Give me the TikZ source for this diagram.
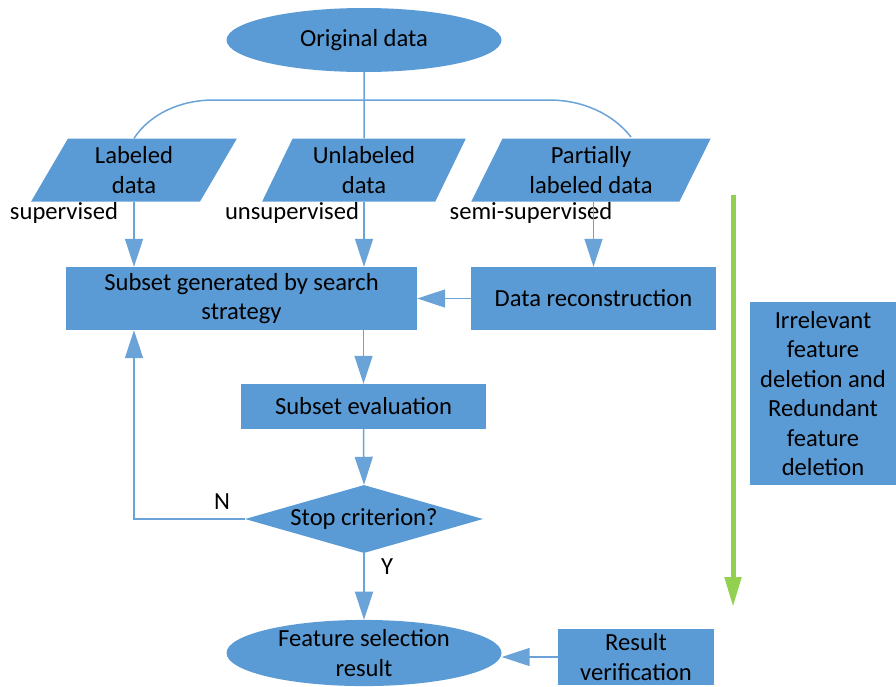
\documentclass[tikz,border=0pt]{standalone}
\usepackage{fontspec}
\setmainfont{Carlito}
\usetikzlibrary{shapes.geometric,arrows.meta}
\definecolor{boxblue}{HTML}{5B9BD5}
\definecolor{lineblue}{HTML}{6AA3D8}
\definecolor{bargreen}{HTML}{92D050}
\begin{document}
\begin{tikzpicture}
    [
    x=1pt,y=-1pt,
    every node/.style={font=\fontsize{24.6}{29.5}\selectfont,text=black},
    terminal/.style={ellipse,fill=boxblue,inner sep=0pt,minimum width=275pt,minimum height=64pt,align=center},
    datainput/.style={trapezium,trapezium left angle=65,trapezium right angle=115,trapezium stretches=true,fill=boxblue,inner sep=0pt,minimum height=63pt,align=center},
    process/.style={rectangle,fill=boxblue,inner sep=0pt,align=center},
    decision/.style={diamond,aspect=3.5,fill=boxblue,inner sep=0pt,minimum width=238pt,minimum height=68pt},
    flow/.style={draw=lineblue,line width=1.5pt},
    arr/.style={flow,-{Triangle[length=28pt,width=18pt]}}
    ]
    \useasboundingbox (0,0) rectangle (896,686);

    \node (orig) at (364,40) [terminal] {Original data};
    \node (lab) at (134,170) [datainput,minimum width=206pt] {Labeled\\data};
    \node (unl) at (364,170) [datainput,minimum width=204pt] {Unlabeled\\data};
    \node (part) at (591,170) [datainput,minimum width=240pt] {Partially\\labeled data};
    \node (sup) at (64,213) {supervised};
    \node (uns) at (292,213) {unsupervised};
    \node (semi) at (531,213) {semi-supervised};

    \node (gen) at (241.5,298.5) [process,minimum width=351pt,minimum height=63pt] {Subset generated by search\\strategy};
    \node (recon) at (593.5,298.5) [process,minimum width=245pt,minimum height=63pt] {Data reconstruction};
    \node (eval) at (363.5,406.5) [process,minimum width=245pt,minimum height=45pt] {Subset evaluation};
    \node (stop) at (364,519) [decision] {Stop criterion?};
    \node (res) at (364,653) [terminal,minimum height=63pt] {Feature selection\\result};
    \node (verif) at (636,657) [process,minimum width=156pt,minimum height=56pt] {Result\\verification};
    \node (irrel) at (823,393.5) [process,minimum width=146pt,minimum height=183pt] {Irrelevant\\feature\\deletion and\\Redundant\\feature\\deletion};
    \node (n) at (222,502) {N};
    \node (y) at (387,567) {Y};

    \coordinate (arcL) at (214,100);
    \coordinate (arcR) at (549,100);
    \coordinate (partTop) at (631,137);
    \coordinate (nturn) at (134,519);
    \coordinate (gtop) at (733,195);
    \coordinate (gend) at (733,607);

    % split of the original data
    \draw [flow] (orig.south) to (unl.north);
    \draw [flow] (lab.north) .. controls (150,114) and (180,100) .. (arcL) -- (arcR) .. controls (583,100) and (613,114) .. (partTop);

    \draw [arr] (lab.south) to (lab.south |- gen.north);
    \draw [arr] (unl.south) to (unl.south |- gen.north);
    \draw [arr] (part.south -| recon.north) to (recon.north);
    \draw [arr] (recon.west) to (gen.east);
    \draw [arr] (eval.north |- gen.south) to (eval.north);
    \draw [arr] (eval.south) to (stop.north);
    \draw [arr] (stop.west) -- (nturn) -- (nturn |- gen.south);
    \draw [arr] (stop.south) to (res.north);
    \draw [arr] (verif.west) to (verif.west -| res.east);

    \draw [draw=bargreen,line width=5pt,-{Triangle[length=30pt,width=16pt]}] (gtop) to (gend);
  \end{tikzpicture}
\end{document}
